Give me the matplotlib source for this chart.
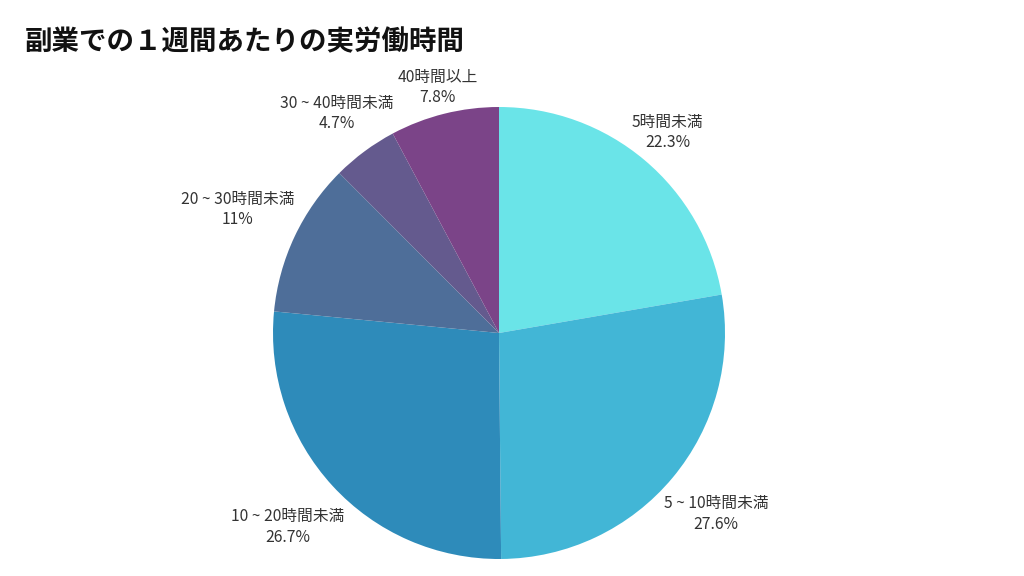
import numpy as np
import matplotlib
matplotlib.use("Agg")
import matplotlib.pyplot as plt

plt.rcParams["font.family"] = ["Noto Sans CJK JP", "DejaVu Sans"]

labels = ["5時間未満", "5 ~ 10時間未満", "10 ~ 20時間未満", "20 ~ 30時間未満", "30 ~ 40時間未満", "40時間以上"]
pct_text = ["22.3%", "27.6%", "26.7%", "11%", "4.7%", "7.8%"]
values = [22.3, 27.6, 26.7, 11.0, 4.7, 7.8]
colors = ["#6AE4E8", "#42B6D6", "#2E8BBA", "#4E6E99", "#645A8E", "#7B4488"]

fig = plt.figure(figsize=(10.24, 5.76), dpi=100)
R = 226
lim = 1.3
side = 2 * lim * R
cx, cy = 499, 333
ax = fig.add_axes([(cx - side / 2) / 1024, (576 - cy - side / 2) / 576, side / 1024, side / 576])
wedges, _ = ax.pie(values, colors=colors, startangle=90, counterclock=False,
                   wedgeprops=dict(linewidth=0))
ax.set_xlim(-lim, lim); ax.set_ylim(-lim, lim); ax.set_aspect("equal"); ax.axis("off")

# label distance (in radii) per slice, tuned to the reference
dist = [1.16, 1.25, 1.27, 1.28, 1.21, 1.12]
for w, lab, p, d in zip(wedges, labels, pct_text, dist):
    a = np.deg2rad((w.theta1 + w.theta2) / 2)
    ax.text(d * np.cos(a), d * np.sin(a), f"{lab}\n{p}", ha="center", va="center",
            fontsize=11.3, color="#333333", linespacing=1.25)

fig.text(25 / 1024, 1 - 42 / 576, "副業での１週間あたりの実労働時間", fontsize=19.8,
         fontweight="bold", color="#111111", va="center", ha="left")
fig.savefig("out.png", dpi=100, facecolor="white")
